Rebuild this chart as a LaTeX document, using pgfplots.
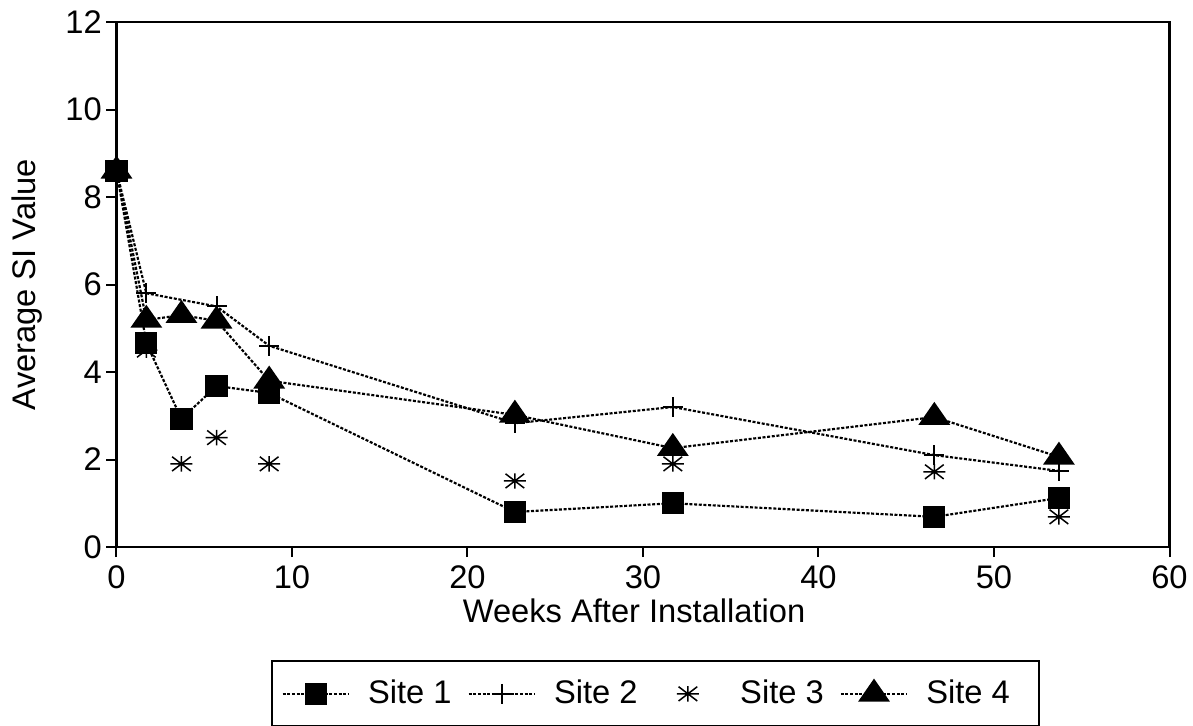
\documentclass[border=0pt]{standalone}
\usepackage{pgfplots}
\pgfplotsset{compat=1.18}
\usepackage{fontspec}
\setmainfont{Liberation Sans}

% eight-ray asterisk as used for Site 3
\pgfdeclareplotmark{star8}{%
  \pgfpathmoveto{\pgfqpoint{-\pgfplotmarksize}{0pt}}\pgfpathlineto{\pgfqpoint{\pgfplotmarksize}{0pt}}%
  \pgfpathmoveto{\pgfqpoint{0pt}{-0.7\pgfplotmarksize}}\pgfpathlineto{\pgfqpoint{0pt}{0.7\pgfplotmarksize}}%
  \pgfpathmoveto{\pgfqpoint{-0.85\pgfplotmarksize}{-0.65\pgfplotmarksize}}\pgfpathlineto{\pgfqpoint{0.85\pgfplotmarksize}{0.65\pgfplotmarksize}}%
  \pgfpathmoveto{\pgfqpoint{-0.85\pgfplotmarksize}{0.65\pgfplotmarksize}}\pgfpathlineto{\pgfqpoint{0.85\pgfplotmarksize}{-0.65\pgfplotmarksize}}%
  \pgfusepathqstroke}

\begin{document}
\begin{tikzpicture}
\begin{axis}[
    at={(0,0)}, anchor=south west,
    scale only axis,
    width=315.9pt, height=157.5pt,
    xmin=0, xmax=60, ymin=0, ymax=12,
    xtick={0,10,...,60}, ytick={0,2,...,12},
    xtick pos=left, ytick pos=left,
    tick align=outside, major tick length=3pt,
    tick style={black, line width=0.6pt},
    axis line style={line width=0.7pt},
    font=\fontsize{9.8}{11}\selectfont,
    /pgf/number format/assume math mode=true,
    xticklabel style={inner sep=2.4pt},
    yticklabel style={inner sep=1.2pt},
    xlabel={Weeks After Installation},
    ylabel={Average SI Value},
    every axis x label/.style={at={(axis description cs:0.4915,-0.1429)}, anchor=base},
    every axis y label/.style={at={(axis description cs:-0.0703,0.5)}, anchor=south, rotate=90, inner sep=0pt},
    every axis plot/.append style={black, line width=0.65pt, dash pattern=on 0.9pt off 0.5pt},
    legend image code/.code={\path (0cm,0cm) (0.7cm,0cm);
        \draw[mark repeat=2,mark phase=2,#1] plot coordinates {(0cm,0cm)(0.35cm,0cm)(0.7cm,0cm)};},
    legend columns=4,
    legend style={at={(axis description cs:0.1467,-0.2152)}, anchor=north west,
        draw=black, line width=0.7pt, inner xsep=2.8pt, inner ysep=3.5pt,
        /tikz/every odd column/.append style={column sep=3.4pt},
        /tikz/every even column/.append style={column sep=2.8pt}},
]

\addplot[mark=square*, mark size=3pt, mark options={solid}]
coordinates{(0,8.6) (1.7,4.66) (3.7,2.93) (5.7,3.68) (8.7,3.52) (22.7,0.8) (31.7,1.0) (46.6,0.69) (53.7,1.12)};
\addlegendentry{Site 1}

\addplot[mark=+, mark size=3pt, mark options={solid, line width=0.6pt}]
coordinates{(0,8.6) (1.7,5.8) (5.7,5.5) (8.7,4.6) (22.7,2.83) (31.7,3.2) (46.6,2.1) (53.7,1.74)};
\addlegendentry{Site 2}

\addplot[only marks, mark=star8, mark size=3.3pt, mark options={solid, line width=0.45pt}]
coordinates{(1.7,4.5) (3.7,1.9) (5.7,2.5) (8.7,1.9) (22.7,1.51) (31.7,1.9) (46.6,1.72) (53.7,0.69)};
\addlegendentry{Site 3}

\addplot[mark=triangle*, mark size=4pt, mark options={solid, xscale=1.2}]
coordinates{(0,8.6) (1.7,5.19) (3.7,5.3) (5.7,5.17) (8.7,3.8) (22.7,3.02) (31.7,2.26) (46.6,2.97) (53.7,2.06)};
\addlegendentry{Site 4\hspace*{4pt}}

\end{axis}
\pgfresetboundingbox
\path (-34.95pt,-53.4pt) rectangle (322.95pt,164.1pt);
\end{tikzpicture}
\end{document}
